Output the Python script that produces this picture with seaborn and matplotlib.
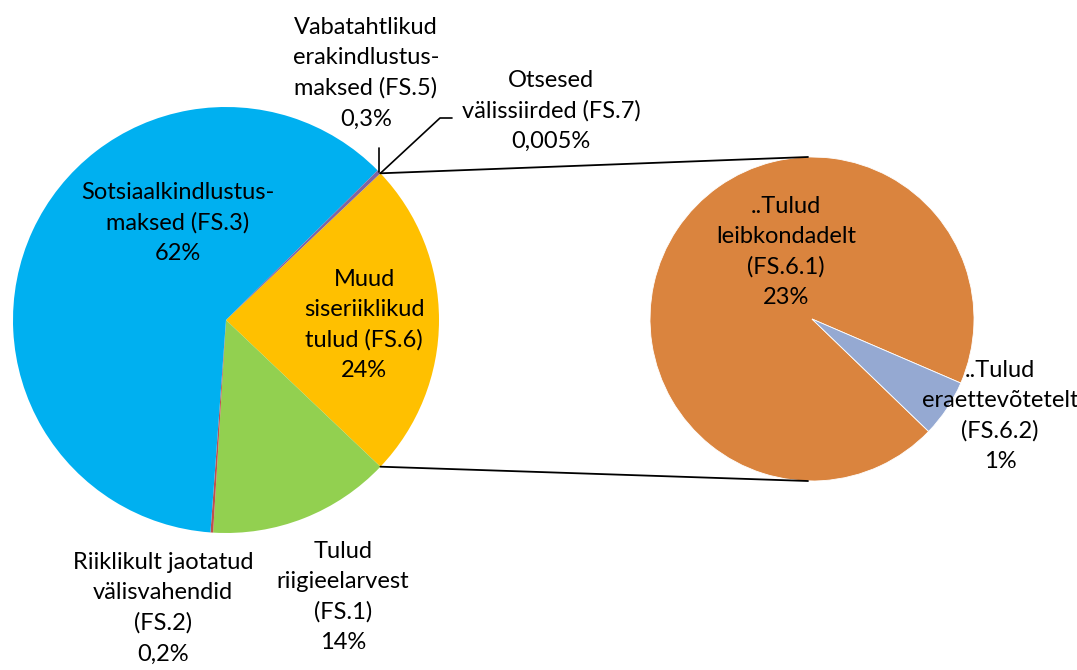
import matplotlib
matplotlib.use("Agg")
import numpy as np
import matplotlib.pyplot as plt
import seaborn as sns

sns.set_theme(style="white")
plt.rcParams["font.family"] = ["Lato", "DejaVu Sans"]

# ---- data ----
main_labels = ["Muud\nsiseriiklikud\ntulud (FS.6)",
               "Tulud\nriigieelarvest\n(FS.1)",
               "Riiklikult jaotatud\nvälisvahendid\n(FS.2)",
               "Sotsiaalkindlustus-\nmaksed (FS.3)",
               "Vabatahtlikud\nerakindlustus-\nmaksed (FS.5)",
               "Otsesed\nvälissiirded (FS.7)"]
main_values = [24.4, 14.0, 0.2, 62.0, 0.3, 0.005]
main_pct = ["24%", "14%", "0,2%", "62%", "0,3%", "0,005%"]
main_colors = ["#FFC000", "#92D050", "#C0504D", "#00B0F0", "#8064A2", "#4BACC6"]

sub_labels = ["..Tulud\nleibkondadelt\n(FS.6.1)",
              "..Tulud\neraettevõtetelt\n(FS.6.2)"]
sub_values = [23.0, 1.4]
sub_pct = ["23%", "1%"]
sub_colors = ["#DA843E", "#95A9D2"]

# label centres (pixel layout, y from bottom)
main_label_pos = [(364, 345), (343, 73), (163, 62), (178, 447), (366, 597), (551, 559)]
sub_label_pos = [(786, 418), (1000, 254)]

W, H = 1077, 670
fig = plt.figure(figsize=(W / 100, H / 100), dpi=100)
ax = fig.add_axes([0, 0, 1, 1])

c1, r1 = (226, 350), 213
c2, r2 = (812, 351), 162

share = main_values[0] / sum(main_values) * 360
w1, _ = ax.pie(main_values, colors=main_colors, center=c1, radius=r1,
               startangle=share / 2, counterclock=False,
               wedgeprops=dict(linewidth=0))
w2, _ = ax.pie(sub_values, colors=sub_colors, center=c2, radius=r2,
               startangle=-23.3, counterclock=True,
               wedgeprops=dict(linewidth=0.6, edgecolor="white"))

ax.set_xlim(0, W)
ax.set_ylim(0, H)
ax.set_aspect("equal")
ax.axis("off")


def rim(c, r, ang):
    a = np.deg2rad(ang)
    return c[0] + r * np.cos(a), c[1] + r * np.sin(a)


# connector lines between the pies
top = rim(c1, r1, w1[0].theta2)
bot = rim(c1, r1, w1[0].theta1)
ax.plot([top[0], c2[0] - 4], [top[1], c2[1] + r2], color="black", lw=1.3)
ax.plot([bot[0], c2[0] - 4], [bot[1], c2[1] - r2], color="black", lw=1.3)

# leader lines for the tiny slices
p5 = rim(c1, r1, (w1[4].theta1 + w1[4].theta2) / 2)
ax.plot([p5[0], p5[0]], [p5[1], 522], color="black", lw=1.2)
p7 = rim(c1, r1, (w1[5].theta1 + w1[5].theta2) / 2)
ax.plot([p7[0], 440, 452], [p7[1], 552, 552], color="black", lw=1.2)

fs = 17
for lab, pct, (x, y) in zip(main_labels, main_pct, main_label_pos):
    ax.text(x, y, lab + "\n" + pct, ha="center", va="center",
            fontsize=fs, linespacing=1.55, color="black")
for lab, pct, (x, y) in zip(sub_labels, sub_pct, sub_label_pos):
    ax.text(x, y, lab + "\n" + pct, ha="center", va="center",
            fontsize=fs, linespacing=1.55, color="black")

fig.savefig("out.png", dpi=100)
